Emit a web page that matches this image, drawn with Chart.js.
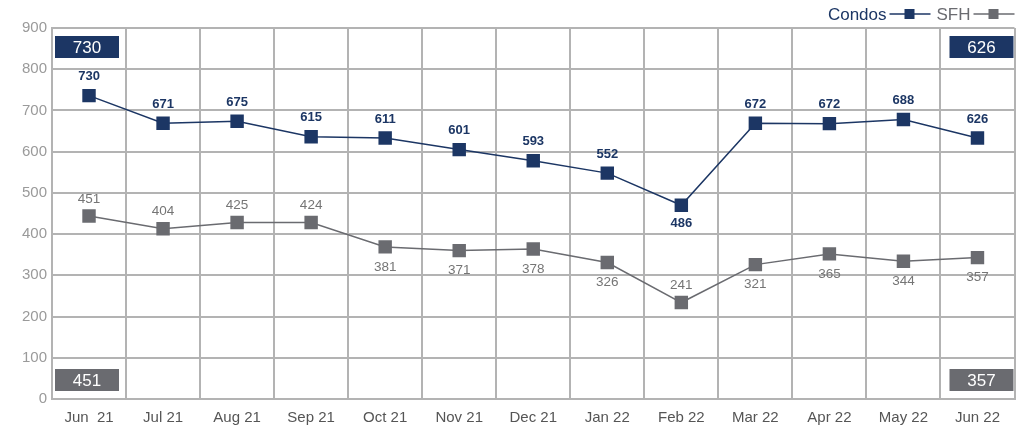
<!DOCTYPE html>
<html lang="en">
<head>
  <meta charset="UTF-8">
  <title>Condos vs SFH</title>
  <style>
    body {
      margin: 0;
      background: #fff;
      font-family: "Liberation Sans", Arial, sans-serif;
    }
    .wrap {
      width: 1024px;
      height: 431px;
    }
  </style>
  <script src="https://cdn.jsdelivr.net/npm/chart.js"></script>
</head>
<body>
  <div class="wrap"><canvas id="chart" width="1024" height="431"></canvas></div>

  <script>
    const months = ['Jun  21', 'Jul 21', 'Aug 21', 'Sep 21', 'Oct 21', 'Nov 21', 'Dec 21',
                    'Jan 22', 'Feb 22', 'Mar 22', 'Apr 22', 'May 22', 'Jun 22'];

    // where the points sit in the picture
    const condos = [736, 669, 674, 636, 633, 605, 578, 548, 470, 669, 668, 678, 633];
    const sfh = [444, 413, 428, 428, 369, 360, 364, 331, 234, 326, 352, 334, 343];

    // the numbers printed next to the points
    const condosLabels = [730, 671, 675, 615, 611, 601, 593, 552, 486, 672, 672, 688, 626];
    const sfhLabels = [451, 404, 425, 424, 381, 371, 378, 326, 241, 321, 365, 344, 357];

    const condosBelow = [0, 0, 0, 0, 0, 0, 0, 0, 1, 0, 0, 0, 0];
    const sfhBelow = [0, 0, 0, 0, 1, 1, 1, 1, 0, 1, 1, 1, 1];

    const NAVY = '#1c3664';
    const GREY = '#6a6b70';
    const FONT = '"Liberation Sans", Arial, sans-serif';

    const pointLabels = {
      id: 'pointLabels',
      afterDatasetsDraw(chart) {
        const ctx = chart.ctx;
        const sets = [
          { i: 0, labels: condosLabels, below: condosBelow, up: -19, down: 18, color: NAVY, font: 'bold 13px ' + FONT },
          { i: 1, labels: sfhLabels, below: sfhBelow, up: -17, down: 20, color: '#757575', font: '13.5px ' + FONT }
        ];
        ctx.save();
        ctx.textAlign = 'center';
        ctx.textBaseline = 'middle';
        sets.forEach(s => {
          const meta = chart.getDatasetMeta(s.i);
          ctx.fillStyle = s.color;
          ctx.font = s.font;
          meta.data.forEach((pt, k) => {
            const dy = s.below[k] ? s.down : s.up;
            ctx.fillText(String(s.labels[k]), pt.x, pt.y + dy);
          });
        });
        ctx.restore();
      }
    };

    const cornerBoxes = {
      id: 'cornerBoxes',
      afterDraw(chart) {
        const ctx = chart.ctx;
        const a = chart.chartArea;
        const w = 64, h = 22;
        const boxes = [
          { x: a.left + 3, y: a.top + 8, text: condosLabels[0], fill: NAVY },
          { x: a.right - w - 1, y: a.top + 8, text: condosLabels[condosLabels.length - 1], fill: NAVY },
          { x: a.left + 3, y: a.bottom - 30, text: sfhLabels[0], fill: GREY },
          { x: a.right - w - 1, y: a.bottom - 30, text: sfhLabels[sfhLabels.length - 1], fill: GREY }
        ];
        ctx.save();
        ctx.font = '17px ' + FONT;
        ctx.textAlign = 'center';
        ctx.textBaseline = 'middle';
        boxes.forEach(b => {
          ctx.fillStyle = b.fill;
          ctx.fillRect(b.x, b.y, w, h);
          ctx.fillStyle = '#fff';
          ctx.fillText(String(b.text), b.x + w / 2, b.y + h / 2 + 1);
        });

        // legend, top right: text then line + square marker
        const y = 14;
        let x = a.right;
        const items = [
          { text: 'SFH', color: GREY },
          { text: 'Condos', color: NAVY }
        ];
        ctx.font = '17px ' + FONT;
        ctx.textAlign = 'right';
        items.forEach(it => {
          ctx.strokeStyle = it.color;
          ctx.lineWidth = 1.5;
          ctx.beginPath();
          ctx.moveTo(x - 41, y);
          ctx.lineTo(x, y);
          ctx.stroke();
          ctx.fillStyle = it.color;
          ctx.fillRect(x - 26, y - 5, 10, 10);
          x -= 44;
          ctx.fillText(it.text, x, y + 1);
          x -= ctx.measureText(it.text).width + 6;
        });
        ctx.restore();
      }
    };

    new Chart(document.getElementById('chart'), {
      type: 'line',
      data: {
        labels: months,
        datasets: [
          {
            label: 'Condos',
            data: condos,
            borderColor: NAVY,
            backgroundColor: NAVY,
            borderWidth: 1.5,
            pointStyle: 'rect',
            pointRadius: 9.5,
            pointBorderWidth: 0,
            tension: 0
          },
          {
            label: 'SFH',
            data: sfh,
            borderColor: GREY,
            backgroundColor: GREY,
            borderWidth: 1.5,
            pointStyle: 'rect',
            pointRadius: 9.5,
            pointBorderWidth: 0,
            tension: 0
          }
        ]
      },
      options: {
        responsive: false,
        animation: false,
        layout: { padding: { top: 28, right: 5, left: 0, bottom: 0 } },
        plugins: {
          legend: { display: false },
          tooltip: { enabled: false }
        },
        scales: {
          x: {
            offset: true,
            afterFit(scale) { scale.height = 32; },
            grid: { offset: true, color: '#b3b3b3', lineWidth: 2, drawTicks: false },
            border: { color: '#b3b3b3', width: 2 },
            ticks: { color: '#555', font: { family: FONT, size: 15 }, padding: 10, maxRotation: 0 }
          },
          y: {
            min: 0,
            max: 900,
            afterFit(scale) { scale.width = 52; },
            grid: { color: '#b3b3b3', lineWidth: 2, drawTicks: false },
            border: { color: '#b3b3b3', width: 2 },
            ticks: { stepSize: 100, color: '#9a9a9a', font: { family: FONT, size: 15 }, padding: 5 }
          }
        }
      },
      plugins: [pointLabels, cornerBoxes]
    });
  </script>
</body>
</html>
